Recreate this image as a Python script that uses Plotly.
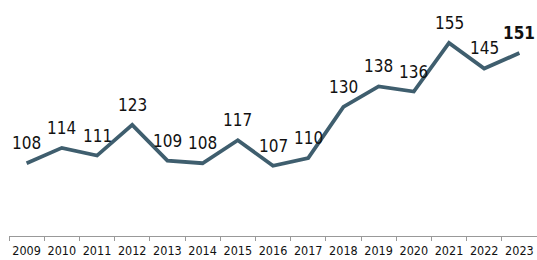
import plotly.graph_objects as go

years = ["2009","2010","2011","2012","2013","2014","2015","2016","2017","2018","2019","2020","2021","2022","2023"]
values = [108,114,111,123,109,108,117,107,110,130,138,136,155,145,151]
labels = [str(v) for v in values[:-1]] + ["<b>%d</b>" % values[-1]]

FONT = "DejaVu Sans Condensed, DejaVu Sans"

fig = go.Figure(go.Scatter(
    x=years, y=values, mode="lines",
    line=dict(color="#3F5E6E", width=3.8),
))
for i, (y, t) in enumerate(zip(values, labels)):
    fig.add_annotation(x=i, y=y, text=t, showarrow=False, yanchor="bottom", yshift=8,
                       xref="x", yref="y",
                       font=dict(family=FONT, size=17, color="#111111"))
fig.update_layout(
    width=537, height=260,
    margin=dict(l=9, r=0, t=8, b=24, pad=0),
    paper_bgcolor="white", plot_bgcolor="white",
    showlegend=False,
    xaxis=dict(type="category", range=[-0.5, 14.5], showgrid=False, showline=True, automargin=False,
               linecolor="#999999", linewidth=1, tickangle=0,
               ticks="outside", tickson="boundaries", ticklen=4, tickcolor="#999999",
               ticklabelstandoff=3,
               tickfont=dict(family=FONT, size=12.5, color="#111111")),
    yaxis=dict(range=[79.6, 168.6], visible=False, showgrid=False, zeroline=False, automargin=False),
)
fig.write_html("out.html", config={"displayModeBar": False},
               post_script="document.body.style.margin='0';document.body.style.overflow='hidden';")
